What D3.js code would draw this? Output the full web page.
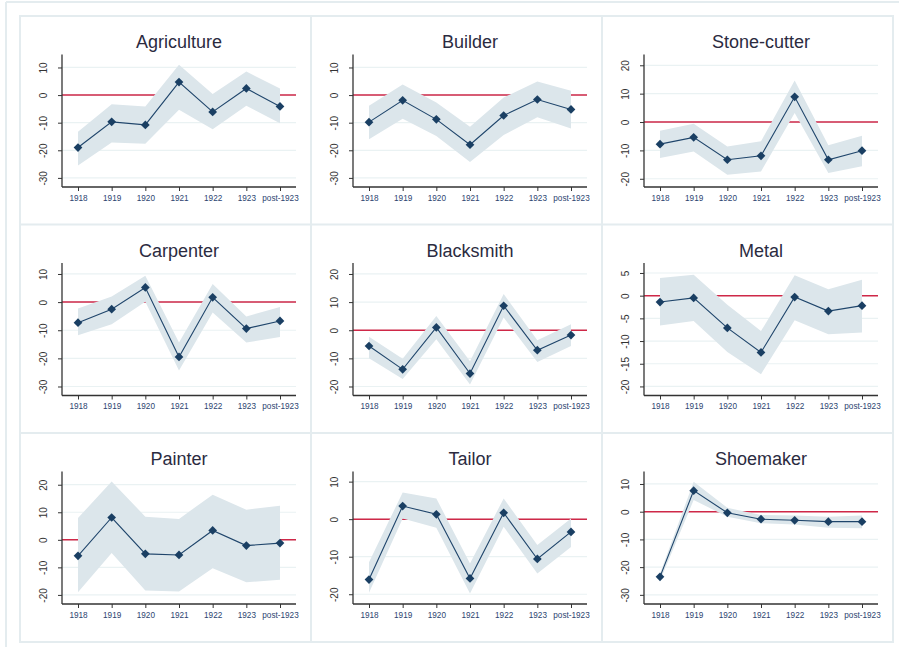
<!DOCTYPE html>
<html><head><meta charset="utf-8">
<script src="https://cdn.jsdelivr.net/npm/d3@7"></script>
<style>html,body{margin:0;padding:0;background:#fff;}svg{display:block;}</style>
</head><body>
<svg id="chart" width="899" height="647"></svg>
<script>
const years = ["1918","1919","1920","1921","1922","1923","post-1923"];
const titles = ["Agriculture","Builder","Stone-cutter","Carpenter","Blacksmith","Metal","Painter","Tailor","Shoemaker"];

const agriculture = [-19.0,-9.7,-10.8,4.7,-6.1,2.4,-4.1];
const agricultureLo = [-25.5,-17.2,-17.6,-5.3,-12.4,-3.9,-10.2];
const agricultureHi = [-13.3,-3.3,-4.1,11.0,0.4,8.5,2.4];

const builder = [-9.8,-1.9,-8.8,-18.0,-7.4,-1.6,-5.2];
const builderLo = [-16.0,-8.6,-14.8,-24.2,-14.5,-8.0,-12.1];
const builderHi = [-3.9,3.8,-2.7,-11.5,-0.9,4.9,1.6];

const stonecutter = [-7.8,-5.4,-13.3,-11.9,8.9,-13.3,-10.1];
const stonecutterLo = [-12.7,-10.4,-18.6,-17.4,3.2,-18.0,-15.6];
const stonecutterHi = [-3.1,-0.6,-8.6,-6.8,14.6,-8.2,-4.8];

const carpenter = [-7.3,-2.5,5.2,-19.5,1.7,-9.4,-6.7];
const carpenterLo = [-11.8,-7.9,0.1,-24.3,-3.7,-14.4,-12.4];
const carpenterHi = [-2.3,2.0,9.4,-14.4,6.4,-5.1,-1.7];

const blacksmith = [-5.6,-13.9,1.0,-15.4,8.7,-7.1,-1.7];
const blacksmithLo = [-10.0,-17.3,-3.2,-19.3,4.5,-11.3,-5.6];
const blacksmithHi = [-2.3,-10.1,5.1,-11.0,12.9,-3.6,2.1];

const metal = [-1.4,-0.5,-7.1,-12.5,-0.3,-3.4,-2.2];
const metalLo = [-6.6,-5.6,-12.4,-17.3,-5.4,-8.5,-8.1];
const metalHi = [3.9,4.6,-2.0,-7.8,4.5,1.4,3.5];

const painter = [-5.8,8.1,-5.1,-5.5,3.4,-2.1,-1.2];
const painterLo = [-19.0,-4.8,-18.4,-18.8,-10.3,-15.4,-14.5];
const painterHi = [7.9,21.2,8.4,7.6,16.4,10.9,12.4];

const tailor = [-16.1,3.5,1.3,-15.8,1.7,-10.6,-3.4];
const tailorLo = [-19.6,0.2,-2.3,-19.8,-2.0,-14.5,-7.4];
const tailorHi = [-11.5,7.1,5.5,-11.8,5.5,-6.9,0.2];

const shoemaker = [-23.5,7.6,-0.4,-2.7,-3.1,-3.6,-3.6];
const shoemakerLo = [-24.9,4.2,-1.8,-4.2,-4.6,-5.8,-6.0];
const shoemakerHi = [-22.3,10.8,1.4,-1.2,-1.4,-1.8,-1.4];

const estimates = [agriculture,builder,stonecutter,carpenter,blacksmith,metal,painter,tailor,shoemaker];
const lowers = [agricultureLo,builderLo,stonecutterLo,carpenterLo,blacksmithLo,metalLo,painterLo,tailorLo,shoemakerLo];
const uppers = [agricultureHi,builderHi,stonecutterHi,carpenterHi,blacksmithHi,metalHi,painterHi,tailorHi,shoemakerHi];

const yTicks = [
  [10,0,-10,-20,-30],
  [10,0,-10,-20,-30],
  [20,10,0,-10,-20],
  [10,0,-10,-20,-30],
  [20,10,0,-10,-20],
  [5,0,-5,-10,-15,-20],
  [20,10,0,-10,-20],
  [10,0,-10,-20],
  [10,0,-10,-20,-30]
];
const yDomains = [
  [-33.3,14.7],[-33.3,14.7],[-22.9,23.8],
  [-33.2,13.9],[-23.2,23.9],[-22.0,7.2],
  [-23.3,24.8],[-22.6,12.7],[-33.3,14.5]
];

const svg = d3.select("#chart");
const frameColor = "#e4ecef";
const font = "Liberation Sans, Arial, sans-serif";

// outer frame
svg.append("line").attr("x1",6).attr("x2",6).attr("y1",2).attr("y2",647)
  .attr("stroke",frameColor).attr("stroke-width",2);
svg.append("line").attr("x1",6).attr("x2",899).attr("y1",2).attr("y2",2)
  .attr("stroke",frameColor).attr("stroke-width",2);

const colX = [20,311,602];
const rowY = [16,224.5,433];
const panelW = 291, panelH = 209;

titles.forEach((title,i)=>{
  const col = i%3, row = Math.floor(i/3);
  const x0 = colX[col], y0 = rowY[row];
  const g = svg.append("g");
  g.append("rect").attr("x",x0).attr("y",y0).attr("width",panelW).attr("height",panelH)
    .attr("fill","#fff").attr("stroke",frameColor).attr("stroke-width",2);

  const axisX = x0+42, axisRight = x0+276;
  const top = y0+38.5, bottom = y0+171;
  const x = d3.scalePoint().domain(years).range([x0+58, x0+260]);
  const y = d3.scaleLinear().domain(yDomains[i]).range([bottom, top]);

  // grid
  g.selectAll(".grid").data(yTicks[i]).enter().append("line")
    .attr("x1",axisX).attr("x2",axisRight)
    .attr("y1",d=>y(d)).attr("y2",d=>y(d))
    .attr("stroke","#eaf2f3").attr("stroke-width",1.2);

  // zero line
  g.append("line").attr("x1",axisX).attr("x2",axisRight)
    .attr("y1",y(0)).attr("y2",y(0))
    .attr("stroke","#cf2848").attr("stroke-width",1.5);

  // band
  const idx = d3.range(years.length);
  const area = d3.area().x(j=>x(years[j])).y0(j=>y(lowers[i][j])).y1(j=>y(uppers[i][j]));
  g.append("path").datum(idx).attr("d",area).attr("fill","#dce6eb");

  // line
  const line = d3.line().x(j=>x(years[j])).y(j=>y(estimates[i][j]));
  g.append("path").datum(idx).attr("d",line).attr("fill","none")
    .attr("stroke","#1f456b").attr("stroke-width",1.1);

  // markers
  const sym = d3.symbol().type(d3.symbolSquare).size(38);
  g.selectAll(".pt").data(idx).enter().append("path")
    .attr("d",sym)
    .attr("transform",j=>`translate(${x(years[j])},${y(estimates[i][j])}) rotate(45)`)
    .attr("fill","#1a3f63");

  // y axis
  const yAxis = d3.axisLeft(y).tickValues(yTicks[i]).tickSize(4).tickSizeOuter(0).tickFormat(d=>String(d));
  const ya = g.append("g").attr("transform",`translate(${axisX},0)`).call(yAxis);
  ya.select(".domain").attr("d",`M0,${top}V${bottom}`).attr("stroke","#333").attr("stroke-width",1.3);
  ya.selectAll(".tick line").attr("stroke","#333").attr("stroke-width",1);
  ya.selectAll(".tick text")
    .attr("x",null).attr("dy",null)
    .attr("transform","translate(-15.5,0) rotate(-90)")
    .attr("text-anchor","middle")
    .attr("font-family",font)
    .attr("font-size",10).attr("fill","#333");

  // x axis
  const xAxis = d3.axisBottom(x).tickSize(4).tickSizeOuter(0);
  const xa = g.append("g").attr("transform",`translate(0,${bottom})`).call(xAxis);
  xa.select(".domain").attr("d",`M${axisX},0H${axisRight}`).attr("stroke","#333").attr("stroke-width",1.3);
  xa.selectAll(".tick line").attr("stroke","#333").attr("stroke-width",1);
  xa.selectAll(".tick text").attr("y",11).attr("dy","0.35em")
    .attr("font-family",font)
    .attr("font-size",8.2).attr("fill","#2c4470");

  // title
  g.append("text").attr("x",(axisX+axisRight)/2).attr("y",y0+26)
    .attr("dy","0.35em").attr("text-anchor","middle")
    .attr("font-family",font)
    .attr("font-size",18).attr("fill","#2b2b3f").text(title);
});
</script>
</body></html>
